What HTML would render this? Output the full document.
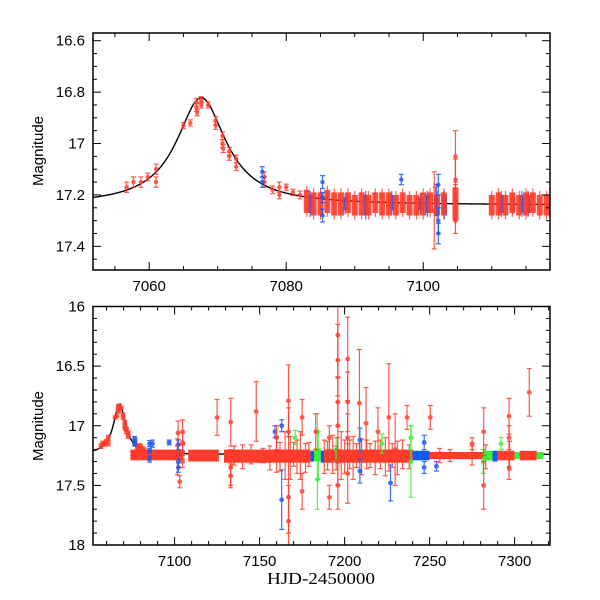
<!DOCTYPE html>
<html><head><meta charset="utf-8">
<style>
html,body{margin:0;padding:0;background:#fff;}
svg{display:block;font-family:"Liberation Sans",sans-serif;}
</style></head>
<body>
<svg id="chart" width="600" height="600" viewBox="0 0 600 600" xmlns="http://www.w3.org/2000/svg">
<rect width="600" height="600" fill="#fff"/>
<g id="top"></g>
<g id="bot"></g>
<text x="0" y="0" transform="translate(43,151) rotate(-90)" text-anchor="middle" font-size="15">Magnitude</text>
<text x="0" y="0" transform="translate(43,426) rotate(-90)" text-anchor="middle" font-size="15">Magnitude</text>
<text x="267" y="584" font-size="17" font-family="Liberation Serif, serif" textLength="108" lengthAdjust="spacingAndGlyphs">HJD-2450000</text>
</svg>
<script>
// ---- data ----
const modelParams = [7067.6, 17.24, 0.47, 4.0]; // t0, baseline mag, peak flux excess, width
const redT = [7056.7,7057.7,7058.8,7059.8,7061,7061,7065,7066,7066.9,7066.9,7067,7067.6,7067.6,7068.6,7069.7,7069.7,7070.7,7070.7,7070.8,7071.7,7071.7,7072.7,7072.7,7076.8,7076.8,7078,7079,7079,7080,7081,7082];
const redM = [17.17,17.15,17.15,17.13,17.10,17.15,16.93,16.92,16.84,16.86,16.88,16.83,16.85,16.85,16.91,16.93,16.97,17.0,17.02,17.03,17.05,17.06,17.09,17.13,17.15,17.18,17.17,17.2,17.17,17.19,17.2];
const redE = [0.02,0.02,0.02,0.015,0.02,0.02,0.012,0.012,0.015,0.015,0.012,0.012,0.012,0.012,0.015,0.015,0.015,0.015,0.015,0.015,0.015,0.015,0.015,0.02,0.02,0.015,0.02,0.015,0.012,0.012,0.015];
const blueT = [7076.5,7076.5,7085.3,7085.3,7085.3,7096.8,7102.2,7102.2,7102.2,7101.9];
const blueM = [17.11,17.15,17.15,17.21,17.28,17.14,17.16,17.30,17.35,17.22];
const blueE = [0.02,0.02,0.025,0.02,0.025,0.02,0.04,0.05,0.04,0.06];
const redOutT = [7101.6,7101.8,7104.7,7104.7,7104.7,7104.7];
const redOutM = [17.26,17.22,17.05,17.14,17.22,17.30];
const redOutE = [0.15,0.05,0.1,0.08,0.06,0.05];
// nightly clusters in top panel
const nightRedT = [7083,7084,7085,7086,7087,7088,7089,7090,7091,7092,7093,7094,7095,7096,7097,7098,7099,7100,7101,7102,7103,7104.7,7110,7111,7112,7113,7114,7115,7116,7117,7118];
const nightRedLo = [17.18,17.19,17.19,17.18,17.19,17.19,17.19,17.2,17.19,17.2,17.19,17.19,17.19,17.2,17.19,17.2,17.2,17.19,17.19,17.2,17.19,17.17,17.2,17.19,17.2,17.19,17.2,17.19,17.19,17.2,17.2];
const nightRedHi = [17.27,17.28,17.28,17.27,17.28,17.28,17.27,17.28,17.28,17.28,17.27,17.28,17.28,17.28,17.27,17.28,17.28,17.28,17.27,17.28,17.28,17.3,17.28,17.28,17.28,17.27,17.28,17.28,17.27,17.28,17.28];
const nightBlueT = [7083.5,7088.6,7091.6,7095.4,7099.6,7100.6,7103.1,7111.4,7113.1,7114.4,7115.3];
const nightBlueLo = [17.2,17.21,17.2,17.2,17.21,17.2,17.2,17.2,17.21,17.2,17.2];
const nightBlueHi = [17.27,17.26,17.28,17.26,17.26,17.27,17.28,17.27,17.26,17.27,17.27];
// bottom panel bands: start, end, colour index (0 red,1 blue,2 green)
const bandStart = [7074,7108,7129,7180,7182,7186,7188,7240,7250,7282,7287,7290,7300,7303,7313];
const bandEnd   = [7105,7126,7180,7183,7186,7188,7240,7250,7282,7287,7290,7300,7303,7313,7317];
const bandColor = [0,0,0,1,2,1,0,1,0,2,1,0,2,0,2];
const bandLo = [17.2,17.2,17.2,17.21,17.19,17.21,17.2,17.21,17.22,17.21,17.21,17.21,17.22,17.21,17.22];
const bandHi = [17.29,17.3,17.31,17.3,17.3,17.31,17.31,17.29,17.28,17.29,17.3,17.29,17.28,17.29,17.28];
// bottom-panel outliers
const bRedT = [7102,7103,7125,7133,7133,7133,7148,7167,7167,7167,7167,7175,7175,7191,7191,7196,7196,7196,7196,7196,7196,7201.8,7201.8,7201.8,7201.8,7208.7,7212.6,7219.6,7226,7229.7,7236.7,7250.4,7275,7281.8,7281.8,7296.7,7296.7,7296.7,7308.6,7160,7183];
const bRedM = [17.06,17.47,16.93,16.97,17.35,17.42,16.88,16.79,17.05,17.6,17.8,16.93,17.55,17.6,17.1,16.24,16.45,16.8,17.0,17.3,17.5,16.44,16.8,17.1,17.4,16.81,16.98,17.05,16.93,17.2,16.93,16.93,17.15,17.05,17.5,16.92,17.1,17.35,16.72,17.1,17.05];
const bRedE = [0.1,0.05,0.15,0.2,0.15,0.1,0.25,0.3,0.2,0.3,0.3,0.15,0.15,0.1,0.1,0.35,0.3,0.2,0.2,0.2,0.2,0.35,0.25,0.2,0.25,0.45,0.3,0.2,0.45,0.3,0.1,0.1,0.05,0.2,0.2,0.15,0.1,0.1,0.2,0.1,0.15];
// moderate-error points in the band
const bMidT = [7135,7140,7145,7152,7156,7160,7162,7165,7168,7170,7172,7174,7177,7179,7188,7190,7193,7195,7198,7200,7203,7205,7207,7210,7213,7215,7218,7221,7224,7228,7231,7234,7238,7256,7262,7275,7283,7297];
const bMidM = [17.25,17.26,17.24,17.25,17.27,17.24,17.26,17.25,17.27,17.24,17.26,17.25,17.27,17.24,17.26,17.25,17.24,17.27,17.25,17.26,17.24,17.27,17.25,17.26,17.24,17.25,17.27,17.24,17.26,17.25,17.27,17.24,17.26,17.25,17.25,17.25,17.26,17.25];
const bMidE = [0.08,0.1,0.08,0.06,0.1,0.15,0.12,0.2,0.18,0.1,0.14,0.2,0.12,0.1,0.14,0.12,0.16,0.1,0.2,0.14,0.12,0.18,0.1,0.15,0.12,0.1,0.14,0.12,0.16,0.1,0.14,0.12,0.1,0.06,0.05,0.08,0.1,0.12];
const bBlueT = [7163,7163,7209,7209,7227,7246.8,7246.8,7254,7159,7087];
const bBlueM = [17.0,17.62,17.12,17.38,17.48,17.14,17.35,17.34,17.05,17.15];
const bBlueE = [0.05,0.25,0.1,0.1,0.15,0.06,0.05,0.04,0.05,0.03];
const bGreenT = [7184,7184,7184.5,7239,7239,7281.5,7292,7171,7195,7222];
const bGreenM = [17.05,17.45,17.25,17.3,17.1,17.3,17.15,17.1,17.2,17.15];
const bGreenE = [0.15,0.25,0.2,0.3,0.1,0.1,0.05,0.06,0.1,0.08];
const topYTicks = ["16.6","16.8","17","17.2","17.4"];
const topXTicks = ["7060","7080","7100"];
const botYTicks = ["16","16.5","17","17.5","18"];
const botXTicks = ["7100","7150","7200","7250","7300"];

const COLORS = ["#ff3b2b","#1357f0","#3def3a"];
const NS = "http://www.w3.org/2000/svg";
function mk(tag, attrs, parent){const e=document.createElementNS(NS,tag);for(const k in attrs)e.setAttribute(k,attrs[k]);parent.appendChild(e);return e;}

function model(t){const p=modelParams;const u=(t-p[0])/p[3];return p[1]-2.5*Math.log10(1+p[2]/(1+u*u));}

function panel(g, id, box, xr, yr, xMajor, xMinor, yMajor, yMinor, xLabels, yLabels, opts){
  const X=t=>box.l+(t-xr[0])/(xr[1]-xr[0])*(box.r-box.l);
  const Y=m=>box.t+(m-yr[0])/(yr[1]-yr[0])*(box.b-box.t);
  const cp=mk("clipPath",{id:"clip-"+id},g);mk("rect",{x:box.l,y:box.t,width:box.r-box.l,height:box.b-box.t},cp);
  const d=mk("g",{"clip-path":"url(#clip-"+id+")"},g);
  let path="";for(let t=xr[0];t<=xr[1];t+=0.1){path+=(path?"L":"M")+X(t).toFixed(2)+","+Y(model(t)).toFixed(2);}
  const curve=mk("path",{d:path,fill:"none",stroke:"#000","stroke-width":1.4},d);
  
  
  const cap=opts.cap, r=opts.r;
  function pts(T,M,E,col,name){
    for(let i=0;i<T.length;i++){
      const x=X(T[i]), y1=Y(M[i]-E[i]), y2=Y(M[i]+E[i]);
      const pg=mk("g",{stroke:col,fill:col,opacity:0.85},d);
      
      
      mk("line",{x1:x,x2:x,y1:y1,y2:y2,"stroke-width":1.2},pg);
      mk("line",{x1:x-cap,x2:x+cap,y1:y1,y2:y1,"stroke-width":1.2},pg);
      mk("line",{x1:x-cap,x2:x+cap,y1:y2,y2:y2,"stroke-width":1.2},pg);
      mk("circle",{cx:x,cy:Y(M[i]),r:r,stroke:"none"},pg);
    }
  }
  function blocks(T,Lo,Hi,col,name,w){
    for(let i=0;i<T.length;i++){
      const x=X(T[i]);
      const b=mk("rect",{x:x-w/2,y:Y(Lo[i]),width:w,height:Y(Hi[i])-Y(Lo[i]),fill:col,opacity:0.9},d);
      
      
      mk("line",{x1:x,x2:x,y1:Y(Lo[i])-4,y2:Y(Hi[i])+4,stroke:col,"stroke-width":1.2,opacity:0.8},d);
    }
  }
  if(opts.bands){
    pts(bMidT,bMidM,bMidE,COLORS[0],"red-band");
    for(let i=0;i<bandStart.length;i++){
      const x1=X(bandStart[i]),x2=X(bandEnd[i]);
      const b=mk("rect",{x:x1,y:Y(bandLo[i]),width:x2-x1,height:Y(bandHi[i])-Y(bandLo[i]),fill:COLORS[bandColor[i]]},d);
      
      
    }
    pts(bGreenT,bGreenM,bGreenE,COLORS[2],"green");
    pts(bBlueT,bBlueM,bBlueE,COLORS[1],"blue");
    pts(bRedT,bRedM,bRedE,COLORS[0],"red");
  } else {
    blocks(nightBlueT,nightBlueLo,nightBlueHi,COLORS[1],"blue",5);
    blocks(nightRedT,nightRedLo,nightRedHi,COLORS[0],"red",6);
  }
  pts(redT,redM,redE,COLORS[0],"red");
  pts(blueT,blueM,blueE,COLORS[1],"blue");
  pts(redOutT,redOutM,redOutE,COLORS[0],"red");
  const fr=mk("rect",{x:box.l,y:box.t,width:box.r-box.l,height:box.b-box.t,fill:"none",stroke:"#000","stroke-width":1.5},g);
  
  
  const tk=mk("g",{stroke:"#000","stroke-width":1},g);
  const eps=1e-6;
  for(let t=Math.ceil(xr[0]/xMinor)*xMinor;t<=xr[1];t+=xMinor){
    const maj=Math.abs(t/xMajor-Math.round(t/xMajor))<eps, L=maj?8:4, x=X(t);
    mk("line",{x1:x,x2:x,y1:box.b,y2:box.b-L},tk);mk("line",{x1:x,x2:x,y1:box.t,y2:box.t+L},tk);
  }
  const y0=Math.ceil(yr[0]/yMinor-eps);
  for(let k=y0;k*yMinor<=yr[1]+eps;k++){
    const m=k*yMinor, maj=Math.abs(m/yMajor-Math.round(m/yMajor))<eps, L=maj?8:4, y=Y(m);
    mk("line",{x1:box.l,x2:box.l+L,y1:y,y2:y},tk);mk("line",{x1:box.r,x2:box.r-L,y1:y,y2:y},tk);
  }
  xLabels.forEach(s=>{const t=mk("text",{x:X(+s),y:box.b+21,"text-anchor":"middle","font-size":15},g);t.textContent=s;
    
    });
  yLabels.forEach(s=>{const t=mk("text",{x:box.l-8,y:Y(+s)+5,"text-anchor":"end","font-size":15},g);t.textContent=s;
    
    });
}
panel(document.getElementById("top"),"top",{l:93,r:550,t:33,b:270},[7051.8,7118.5],[16.57,17.492],20,5,0.2,0.05,topXTicks,topYTicks,{cap:2.5,r:2.2});
panel(document.getElementById("bot"),"bottom",{l:93,r:550,t:306.5,b:545},[7052,7320.8],[16,18],50,10,0.5,0.1,botXTicks,botYTicks,{cap:2.5,r:2.4,bands:true});
</script>
</body></html>
